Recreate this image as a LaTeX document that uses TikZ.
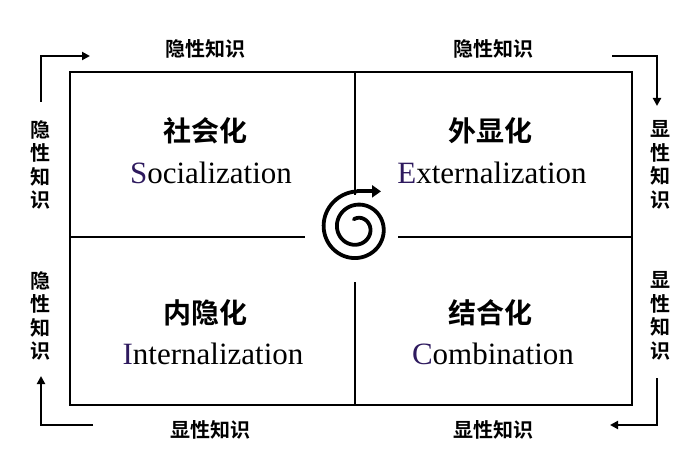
\documentclass[tikz,border=0pt]{standalone}
\usepackage{fontspec}
\setmainfont{Liberation Serif}
\newfontfamily\cjk{Noto Sans CJK SC}[BoldFont={Noto Sans CJK SC Bold}]
\usetikzlibrary{arrows.meta}
\definecolor{pur}{HTML}{2E1A5E}
\begin{document}
\begin{tikzpicture}[x=1pt,y=-1pt,
  frame/.style={line width=1.5pt},
  flow/.style={line width=2.6pt},
  tip/.style={-{Triangle[length=8pt,width=8pt]}},
  side/.style={font=\cjk\bfseries\fontsize{20}{23.5}\selectfont, align=center, inner sep=0pt},
  title/.style={font=\cjk\bfseries\fontsize{28}{30}\selectfont},
  eng/.style={font=\fontsize{31}{34}\selectfont}]
\useasboundingbox (0,0) rectangle (700,470);
\draw[frame] (70,72) rectangle (632,405);
\coordinate (hl) at (70,237); \coordinate (hla) at (305,237);
\coordinate (hr) at (632,237); \coordinate (hra) at (398,237);
\coordinate (vt) at (355,72); \coordinate (vta) at (355,195);
\coordinate (vb) at (355,405); \coordinate (vba) at (355,282);
\draw[frame] (hl)--(hla) (hr)--(hra) (vt)--(vta) (vb)--(vba);
% spiral
\draw[line width=3.8pt, line join=round, line cap=round]
  plot[domain=250:990, samples=200, smooth] ({357+0.037*\x*cos(\x)},{228+0.037*\x*sin(\x)})
  coordinate (sp);
\draw[line width=3.8pt, -{Triangle[length=9pt,width=12pt]}] (sp) -- ++(24,0);
% quadrant texts
\node[title] (t1) at (205,131) {社会化};
\node[eng] (e1) at (211,173) {\textcolor{pur}{S}ocialization};
\node[title] (t2) at (490,131) {外显化};
\node[eng] (e2) at (492,173) {\textcolor{pur}{E}xternalization};
\node[title] (t3) at (205,313) {内隐化};
\node[eng] (e3) at (213,354) {\textcolor{pur}{I}nternalization};
\node[title] (t4) at (490,313) {结合化};
\node[eng] (e4) at (493,354) {\textcolor{pur}{C}ombination};
% side labels
\node[side] (a1) at (205,49) {隐性知识};
\node[side] (a2) at (493,49) {隐性知识};
\node[side] (a3) at (210,430) {显性知识};
\node[side] (a4) at (493,430) {显性知识};
\node[side] (l1) at (40,165) {隐\\性\\知\\识};
\node[side] (l2) at (40,316) {隐\\性\\知\\识};
\node[side] (r1) at (660,165) {显\\性\\知\\识};
\node[side] (r2) at (660,316) {显\\性\\知\\识};
% arrows
\coordinate (c1a) at (41,102); \coordinate (c1b) at (41,56); \coordinate (c1c) at (90,56);
\draw[flow,tip] (c1a) -- (c1b) -- (c1c);
\coordinate (c2a) at (612,56); \coordinate (c2b) at (657,56); \coordinate (c2c) at (657,106);
\draw[flow,tip] (c2a) -- (c2b) -- (c2c);
\coordinate (c3a) at (93,425); \coordinate (c3b) at (41,425); \coordinate (c3c) at (41,376);
\draw[flow,tip] (c3a) -- (c3b) -- (c3c);
\coordinate (c4a) at (657,378); \coordinate (c4b) at (657,425); \coordinate (c4c) at (610,425);
\draw[flow,tip] (c4a) -- (c4b) -- (c4c);
\end{tikzpicture}
\end{document}
